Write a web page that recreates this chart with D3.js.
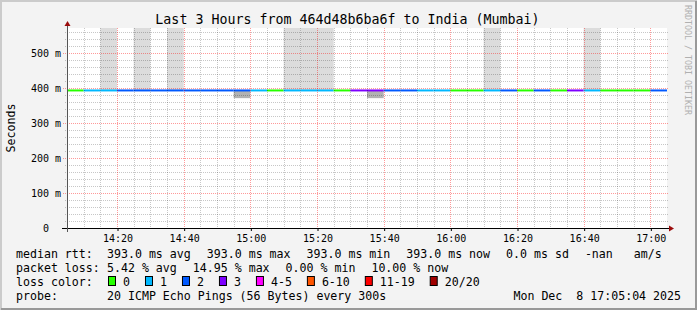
<!DOCTYPE html>
<html>
<head>
<meta charset="utf-8">
<script src="https://cdn.jsdelivr.net/npm/d3@7"></script>
<style>
  body { margin: 0; background: #f3f3f3; }
  text { font-family: "DejaVu Sans Mono", monospace; white-space: pre; }
</style>
</head>
<body>
<div id="chart"></div>
<script>
// data (one step = 5 minutes)
const startTime = new Date(2025, 11, 8, 14, 5);
const endTime = new Date(2025, 11, 8, 17, 5);
const stepMinutes = 5;
const medianRtt = 393;
// loss colour class per step (0 = "0", 1 = "1", 2 = "2", 3 = "3")
const lossClass = [0,1,1,2,2,2,2,2,2,2,2,1,0,1,1,1,0,3,3,2,2,1,1,0,0,1,2,0,2,0,3,1,0,0,0,2];
// smoke reaching above the median (top value, ms) and below it (bottom value, ms)
const smokeAbove = [null,null,600,null,600,null,600,null,null,null,null,null,null,600,600,600,null,null,
                    null,null,null,null,null,null,null,600,null,null,null,null,null,600,null,null,null,null];
const smokeBelow = [null,null,null,null,null,null,null,null,null,null,371,null,null,null,null,null,null,null,
                    371,null,null,null,null,null,null,null,null,null,null,null,null,null,null,null,null,null];

const yTicks = [0, 100, 200, 300, 400, 500];
const lossLabels = ["0", "1", "2", "3", "4-5", "6-10", "11-19", "20/20"];
const lossColors = ["#26ff00", "#00b8ff", "#0059ff", "#7e00ff", "#ff00ff", "#ff5500", "#ff0000", "#a10000"];

const titleText = "Last 3 Hours from 464d48b6ba6f to India (Mumbai)";
const rttLegend = ["393.0 ms avg", "393.0 ms max", "393.0 ms min", "393.0 ms now", "0.0 ms sd", "-nan   am/s"];
const lossLegend = ["5.42 % avg", "14.95 % max", "0.00 % min", "10.00 % now"];
const probeText = "20 ICMP Echo Pings (56 Bytes) every 300s";
const stampText = "Mon Dec  8 17:05:04 2025";

// layout
const W = 697, H = 310;
const plotLeft = 67, plotRight = 667, plotTop = 28, plotBottom = 228;
const yMax = 571.43;

const svg = d3.select("#chart").append("svg")
    .attr("width", W)
    .attr("height", H);

// frame
svg.append("rect").attr("width", W).attr("height", H).attr("fill", "#f3f3f3");
svg.append("path").attr("d", `M1,${H} V1 H${W}`).attr("fill", "none")
    .attr("stroke", "#cbcbcb").attr("stroke-width", 2);
svg.append("path").attr("d", `M1,${H - 1} H${W - 1} V1`).attr("fill", "none")
    .attr("stroke", "#999999").attr("stroke-width", 2);

const x = d3.scaleTime().domain([startTime, endTime]).range([plotLeft, plotRight]);
const y = d3.scaleLinear().domain([0, yMax]).range([plotBottom, plotTop]);

svg.append("rect")
    .attr("x", plotLeft).attr("y", plotTop)
    .attr("width", plotRight - plotLeft).attr("height", plotBottom - plotTop)
    .attr("fill", "#ffffff");

svg.append("clipPath").attr("id", "plot")
  .append("rect")
    .attr("x", plotLeft).attr("y", plotTop)
    .attr("width", plotRight - plotLeft).attr("height", plotBottom - plotTop);

const steps = lossClass.map((c, i) => ({
    t0: d3.timeMinute.offset(startTime, i * stepMinutes),
    t1: d3.timeMinute.offset(startTime, (i + 1) * stepMinutes),
    loss: c,
    above: smokeAbove[i],
    below: smokeBelow[i]
}));

const plot = svg.append("g").attr("clip-path", "url(#plot)");

// smoke
plot.selectAll(".smoke-up")
    .data(steps.filter(d => d.above != null))
    .join("rect")
    .attr("class", "smoke-up")
    .attr("x", d => x(d.t0))
    .attr("width", d => x(d.t1) - x(d.t0))
    .attr("y", d => y(d.above))
    .attr("height", d => y(medianRtt) - y(d.above))
    .attr("fill", "#dcdcdc");

plot.selectAll(".smoke-down")
    .data(steps.filter(d => d.below != null))
    .join("rect")
    .attr("class", "smoke-down")
    .attr("x", d => x(d.t0))
    .attr("width", d => x(d.t1) - x(d.t0))
    .attr("y", y(medianRtt))
    .attr("height", d => y(d.below) - y(medianRtt))
    .attr("fill", "#b2b2b2");

// median line, coloured by loss
plot.selectAll(".median")
    .data(steps)
    .join("line")
    .attr("class", "median")
    .attr("x1", d => x(d.t0))
    .attr("x2", d => x(d.t1))
    .attr("y1", y(medianRtt))
    .attr("y2", y(medianRtt))
    .attr("stroke", d => lossColors[d.loss])
    .attr("stroke-width", 2);

// grid (drawn over the graph, like rrdtool)
const px = v => Math.round(v) + 0.5;
const grid = svg.append("g").attr("fill", "none").attr("stroke-dasharray", "1,1");

const minorY = d3.range(0, yMax, 20).filter(v => v % 100 !== 0);
grid.selectAll(".hminor").data(minorY).join("line")
    .attr("x1", plotLeft - 2).attr("x2", plotRight + 2)
    .attr("y1", d => px(y(d))).attr("y2", d => px(y(d)))
    .attr("stroke", "rgba(0,0,0,0.22)");

const minorX = d3.timeMinute.every(5).range(startTime, endTime).filter(t => t.getMinutes() % 20 !== 0);
grid.selectAll(".vminor").data(minorX).join("line")
    .attr("x1", d => px(x(d))).attr("x2", d => px(x(d)))
    .attr("y1", plotTop).attr("y2", plotBottom + 2)
    .attr("stroke", "rgba(0,0,0,0.22)");

grid.selectAll(".hmajor").data(yTicks.filter(v => v > 0)).join("line")
    .attr("x1", plotLeft - 4).attr("x2", plotRight + 2)
    .attr("y1", d => px(y(d))).attr("y2", d => px(y(d)))
    .attr("stroke", "rgba(255,0,0,0.4)");

const majorX = d3.timeMinute.every(20).range(startTime, endTime);
grid.selectAll(".vmajor").data(majorX).join("line")
    .attr("x1", d => px(x(d))).attr("x2", d => px(x(d)))
    .attr("y1", plotTop).attr("y2", plotBottom + 2)
    .attr("stroke", "rgba(255,0,0,0.4)");

// axes
const xAxis = d3.axisBottom(x)
    .ticks(d3.timeMinute.every(20))
    .tickFormat(d3.timeFormat("%H:%M"))
    .tickSize(3)
    .tickPadding(4);

svg.append("g")
    .attr("class", "axis x-axis")
    .attr("transform", `translate(0.5, ${plotBottom})`)
    .call(xAxis)
    .call(g => g.select(".domain").remove())
    .call(g => g.selectAll("text").attr("font-size", 10).attr("font-family", "DejaVu Sans Mono").attr("fill", "#000"))
    .call(g => g.selectAll("line").attr("stroke", "#000"));

const yAxis = d3.axisLeft(y)
    .tickValues(yTicks)
    .tickFormat(d => d ? d + " m" : "0  ")
    .tickSize(0)
    .tickPadding(6);

svg.append("g")
    .attr("class", "axis y-axis")
    .attr("transform", `translate(${plotLeft}, 0.5)`)
    .call(yAxis)
    .call(g => g.select(".domain").remove())
    .call(g => g.selectAll("text").attr("font-size", 10).attr("font-family", "DejaVu Sans Mono").attr("fill", "#000"));

svg.append("line")
    .attr("x1", plotLeft - 5).attr("x2", plotRight + 2)
    .attr("y1", plotBottom + 0.5).attr("y2", plotBottom + 0.5)
    .attr("stroke", "#000");
svg.append("line")
    .attr("x1", plotLeft + 0.5).attr("x2", plotLeft + 0.5)
    .attr("y1", plotBottom + 4).attr("y2", plotTop - 3)
    .attr("stroke", "#555");
svg.append("path")
    .attr("d", `M${plotRight + 2},${plotBottom - 2.5} L${plotRight + 7},${plotBottom + 0.5} L${plotRight + 2},${plotBottom + 3.5} Z`)
    .attr("fill", "#9b0c0c");
svg.append("path")
    .attr("d", `M${plotLeft - 2.5},${plotTop - 2} L${plotLeft + 0.5},${plotTop - 7} L${plotLeft + 3.5},${plotTop - 2} Z`)
    .attr("fill", "#9b0c0c");

// title, axis label, watermark
svg.append("text")
    .attr("x", 347.5).attr("y", 24)
    .attr("text-anchor", "middle")
    .attr("font-size", 13.3)
    .text(titleText);

svg.append("text")
    .attr("transform", `translate(14.5, ${(plotTop + plotBottom) / 2}) rotate(-90)`)
    .attr("text-anchor", "middle")
    .attr("font-size", 11.6)
    .text("Seconds");

svg.append("text")
    .attr("transform", "translate(684.5, 5) rotate(90)")
    .attr("font-size", 8.3)
    .attr("fill", "#b0b0b0")
    .text("RRDTOOL / TOBI OETIKER");

// legend
const legend = svg.append("g").attr("font-size", 11.6).attr("fill", "#000");
const rowY = [258, 272, 286, 300];
const labelX = 16, valueX = 107, gap = 16;

function textRow(row, label, items) {
    legend.append("text").attr("x", labelX).attr("y", rowY[row]).text(label);
    let cx = valueX;
    items.forEach(s => {
        const t = legend.append("text").attr("x", cx).attr("y", rowY[row]).text(s);
        cx += t.node().getComputedTextLength() + gap;
    });
}

textRow(0, "median rtt:", rttLegend);
textRow(1, "packet loss:", lossLegend);

legend.append("text").attr("x", labelX).attr("y", rowY[2]).text("loss color:");
let bx = valueX + 1;
lossLabels.forEach((s, i) => {
    legend.append("rect")
        .attr("x", bx + 0.5).attr("y", rowY[2] - 9.5)
        .attr("width", 7).attr("height", 9)
        .attr("fill", lossColors[i])
        .attr("stroke", "#000");
    const t = legend.append("text").attr("x", bx + 15).attr("y", rowY[2]).text(s);
    bx += 15 + t.node().getComputedTextLength() + 15;
});

legend.append("text").attr("x", labelX).attr("y", rowY[3]).text("probe:");
legend.append("text").attr("x", valueX).attr("y", rowY[3]).text(probeText);
legend.append("text").attr("x", 681).attr("y", rowY[3]).attr("text-anchor", "end").text(stampText);
</script>
</body>
</html>
